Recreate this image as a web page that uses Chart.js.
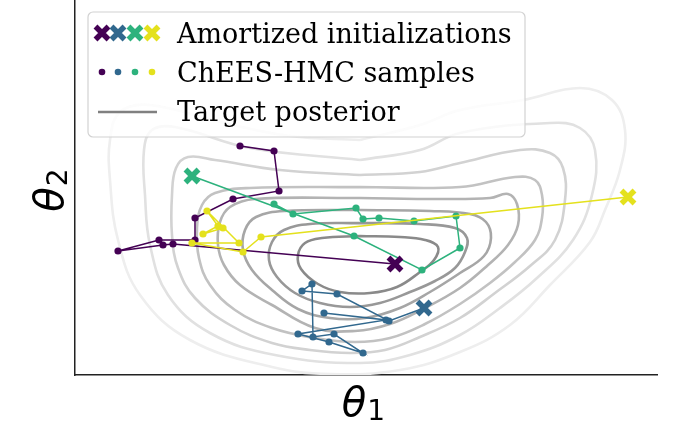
<!DOCTYPE html>
<html>
<head>
<meta charset="utf-8">
<script src="https://cdn.jsdelivr.net/npm/chart.js@4.4.0/dist/chart.umd.min.js"></script>
<style>
  html, body { margin: 0; padding: 0; background: #fff; }
</style>
</head>
<body>
<canvas id="chart" width="682" height="424"></canvas>
<script>
// target posterior contours, innermost first (theta1, theta2)
const contour1 = [[2.85,1.39],[3.25,1.38],[3.50,1.35],[3.63,1.28],[3.59,1.15],[3.45,1.03],[3.22,0.88],[2.95,0.82],[2.65,0.83],[2.43,0.91],[2.26,1.06],[2.23,1.20],[2.30,1.32],[2.47,1.37],[2.85,1.39]];
const contour2 = [[2.85,1.52],[3.45,1.51],[3.80,1.47],[3.92,1.37],[3.90,1.23],[3.80,1.07],[3.60,0.94],[3.35,0.83],[3.05,0.72],[2.75,0.68],[2.45,0.72],[2.20,0.82],[2.02,0.98],[1.94,1.15],[1.97,1.33],[2.09,1.45],[2.35,1.51],[2.85,1.52]];
const contour3 = [[2.85,1.65],[3.55,1.64],[3.95,1.61],[4.11,1.53],[4.16,1.37],[4.09,1.19],[3.85,1.02],[3.55,0.83],[3.25,0.67],[2.90,0.57],[2.55,0.57],[2.23,0.66],[1.97,0.85],[1.77,1.05],[1.68,1.25],[1.70,1.45],[1.81,1.58],[2.10,1.64],[2.85,1.65]];
const contour4 = [[2.85,1.77],[3.65,1.76],[4.15,1.77],[4.33,1.81],[4.42,1.71],[4.43,1.50],[4.33,1.30],[4.13,1.10],[3.85,0.87],[3.50,0.67],[3.15,0.51],[2.80,0.44],[2.40,0.47],[1.97,0.70],[1.65,0.90],[1.49,1.10],[1.43,1.30],[1.45,1.53],[1.55,1.68],[1.80,1.76],[2.85,1.77]];
const contour5 = [[2.85,1.88],[3.85,1.88],[4.40,1.98],[4.60,1.95],[4.67,1.80],[4.67,1.57],[4.60,1.35],[4.40,1.13],[4.15,0.92],[3.85,0.71],[3.50,0.51],[3.15,0.37],[2.80,0.33],[2.40,0.37],[1.97,0.47],[1.60,0.65],[1.35,0.90],[1.24,1.17],[1.22,1.47],[1.27,1.70],[1.40,1.82],[1.75,1.87],[2.85,1.88]];
const contour6 = [[2.85,2.00],[3.45,2.03],[3.85,2.12],[4.45,2.25],[4.75,2.22],[4.88,2.07],[4.90,1.75],[4.80,1.35],[4.55,1.09],[4.20,0.82],[3.85,0.57],[3.45,0.38],[3.10,0.25],[2.75,0.22],[2.35,0.25],[1.97,0.32],[1.55,0.50],[1.20,0.77],[1.03,1.07],[0.97,1.40],[0.97,1.80],[1.01,2.07],[1.13,2.18],[1.40,2.15],[2.05,2.05],[2.85,2.00]];
const contour7 = [[2.85,2.15],[3.45,2.25],[3.85,2.42],[4.75,2.52],[5.05,2.47],[5.20,2.25],[5.17,1.80],[4.98,1.35],[4.62,0.97],[4.25,0.67],[3.85,0.40],[3.35,0.20],[2.85,0.12],[2.00,0.20],[1.35,0.42],[0.93,0.80],[0.75,1.30],[0.70,1.80],[0.69,2.25],[0.77,2.45],[1.00,2.48],[1.75,2.27],[2.85,2.15]];
const contour8 = [[2.85,2.35],[3.45,2.50],[3.85,2.65],[4.48,2.75],[5.05,2.87],[5.37,2.75],[5.50,2.45],[5.45,2.05],[5.30,1.65],[5.15,1.33],[4.75,0.90],[4.35,0.50],[3.85,0.23],[3.25,0.05],[2.55,0.01],[1.97,0.08],[1.15,0.35],[0.65,0.80],[0.43,1.35],[0.35,1.95],[0.35,2.35],[0.45,2.63],[0.75,2.70],[1.45,2.53],[2.15,2.39],[2.85,2.35]];
const contours = [contour1, contour2, contour3, contour4, contour5, contour6, contour7, contour8];
const contourColors = ['#8a8a8a', '#989898', '#a6a6a6', '#b3b3b3', '#c2c2c2', '#d2d2d2', '#e1e1e1', '#eeeeee'];

// chains: amortized init, then ChEES-HMC samples
const chainColors = ['#440154', '#31688e', '#2db27d', '#e4e11d'];
const initPoints = [[3.20,1.11], [3.49,0.67], [1.17,1.99], [5.53,1.78]];
const samplesPurple = [[0.98,1.31],[0.88,1.30],[0.43,1.24],[0.84,1.35],[1.20,1.35],[1.20,1.57],[1.58,1.76],[2.04,1.84],[1.99,2.24],[1.65,2.29]];
const samplesBlue = [[3.14,0.54],[2.62,0.81],[2.27,0.84],[2.37,0.91],[2.38,0.38],[2.59,0.41],[2.88,0.22],[2.54,0.33],[2.23,0.41],[3.11,0.55],[2.49,0.62]];
const samplesGreen = [[2.79,1.39],[3.47,1.05],[3.85,1.27],[3.81,1.59],[3.39,1.54],[3.04,1.57],[2.88,1.56],[2.81,1.67],[2.18,1.61],[1.99,1.71]];
const samplesYellow = [[1.86,1.38],[1.68,1.23],[1.17,1.32],[1.64,1.32],[1.32,1.64],[1.43,1.49],[1.28,1.41],[1.48,1.47]];
const chains = [samplesPurple, samplesBlue, samplesGreen, samplesYellow];

const legendLabels = ['Amortized initializations', 'ChEES-HMC samples', 'Target posterior'];
const xLabel = ['θ', '1'];
const yLabel = ['θ', '2'];

const toXY = arr => arr.map(p => ({ x: p[0], y: p[1] }));

const datasets = [];
datasets.push({
    data: toXY(initPoints),
    showLine: false,
    pointStyle: 'crossRot',
    pointRadius: 9.2,
    pointBorderWidth: 5.5,
    pointBorderColor: chainColors,
    pointBackgroundColor: chainColors,
    order: 0
});
chains.forEach((s, i) => {
    datasets.push({
        data: toXY([initPoints[i]].concat(s)),
        showLine: true,
        borderColor: chainColors[i],
        borderWidth: 1.5,
        pointRadius: 3.6,
        pointBorderWidth: 0,
        pointBackgroundColor: chainColors[i],
        order: 1 + (3 - i)
    });
});
contours.forEach((c, i) => {
    datasets.push({
        data: toXY(c),
        showLine: true,
        borderColor: contourColors[i],
        borderWidth: 2.6,
        pointRadius: 0,
        tension: 0.4,
        order: 10 + (7 - i)
    });
});

function drawCross(ctx, x, y, d, w, color) {
    ctx.save();
    ctx.strokeStyle = color;
    ctx.lineWidth = w;
    ctx.beginPath();
    ctx.moveTo(x - d, y - d); ctx.lineTo(x + d, y + d);
    ctx.moveTo(x - d, y + d); ctx.lineTo(x + d, y - d);
    ctx.stroke();
    ctx.restore();
}

const legendBox = {
    id: 'legendBox',
    afterDraw(chart) {
        const ctx = chart.ctx;
        const a = chart.chartArea;
        const x0 = a.left + 13, y0 = a.top + 12;
        ctx.save();
        ctx.beginPath();
        ctx.roundRect(x0, y0, 437, 125, 5);
        ctx.fillStyle = 'rgba(255,255,255,0.8)';
        ctx.fill();
        ctx.strokeStyle = '#d2d2d2';
        ctx.lineWidth = 1.2;
        ctx.stroke();

        const hx = [a.left + 27, a.left + 43, a.left + 60, a.left + 77];
        hx.forEach((x, i) => drawCross(ctx, x, a.top + 33, 6.5, 5.5, chainColors[i]));
        hx.forEach((x, i) => {
            ctx.beginPath();
            ctx.arc(x, a.top + 72, 3.3, 0, Math.PI * 2);
            ctx.fillStyle = chainColors[i];
            ctx.fill();
        });
        ctx.beginPath();
        ctx.moveTo(a.left + 23, a.top + 112);
        ctx.lineTo(a.left + 82, a.top + 112);
        ctx.strokeStyle = '#808080';
        ctx.lineWidth = 2.7;
        ctx.stroke();

        ctx.fillStyle = '#000';
        ctx.font = '27px "DejaVu Serif"';
        ctx.textBaseline = 'alphabetic';
        ctx.textAlign = 'left';
        legendLabels.forEach((t, i) => ctx.fillText(t, a.left + 102, a.top + 43 + i * 39));
        ctx.restore();
    }
};

function drawMathLabel(ctx, parts) {
    ctx.font = 'italic 40px "DejaVu Sans"';
    const w1 = ctx.measureText(parts[0]).width;
    ctx.font = '28px "DejaVu Sans"';
    const w2 = ctx.measureText(parts[1]).width;
    const start = -(w1 + w2) / 2;
    ctx.font = 'italic 40px "DejaVu Sans"';
    ctx.fillText(parts[0], start, 0);
    ctx.font = '28px "DejaVu Sans"';
    ctx.fillText(parts[1], start + w1 + 1, 4);
}

const axisTitles = {
    id: 'axisTitles',
    afterDraw(chart) {
        const ctx = chart.ctx;
        const a = chart.chartArea;
        ctx.save();
        ctx.fillStyle = '#000';
        ctx.textAlign = 'left';
        ctx.textBaseline = 'alphabetic';
        ctx.save();
        ctx.translate((a.left + a.right) / 2 - 3, a.bottom + 41);
        drawMathLabel(ctx, xLabel);
        ctx.restore();
        ctx.save();
        ctx.translate(a.left - 12, (a.top + a.bottom) / 2 + 3);
        ctx.rotate(-Math.PI / 2);
        drawMathLabel(ctx, yLabel);
        ctx.restore();
        ctx.restore();
    }
};

new Chart(document.getElementById('chart'), {
    type: 'scatter',
    data: { datasets: datasets },
    options: {
        responsive: false,
        animation: false,
        events: [],
        layout: { autoPadding: false, padding: { top: 0, right: 25, bottom: 0, left: 0 } },
        plugins: { legend: { display: false }, tooltip: { enabled: false } },
        scales: {
            x: {
                type: 'linear', min: 0, max: 5.82,
                grid: { display: false },
                ticks: { display: false },
                border: { display: true, color: '#222', width: 1.5 },
                afterFit: axis => { axis.height = 49; }
            },
            y: {
                type: 'linear', min: 0, max: 3.75,
                grid: { display: false },
                ticks: { display: false },
                border: { display: true, color: '#222', width: 1.5 },
                afterFit: axis => { axis.width = 75; }
            }
        }
    },
    plugins: [legendBox, axisTitles]
});
</script>
</body>
</html>
